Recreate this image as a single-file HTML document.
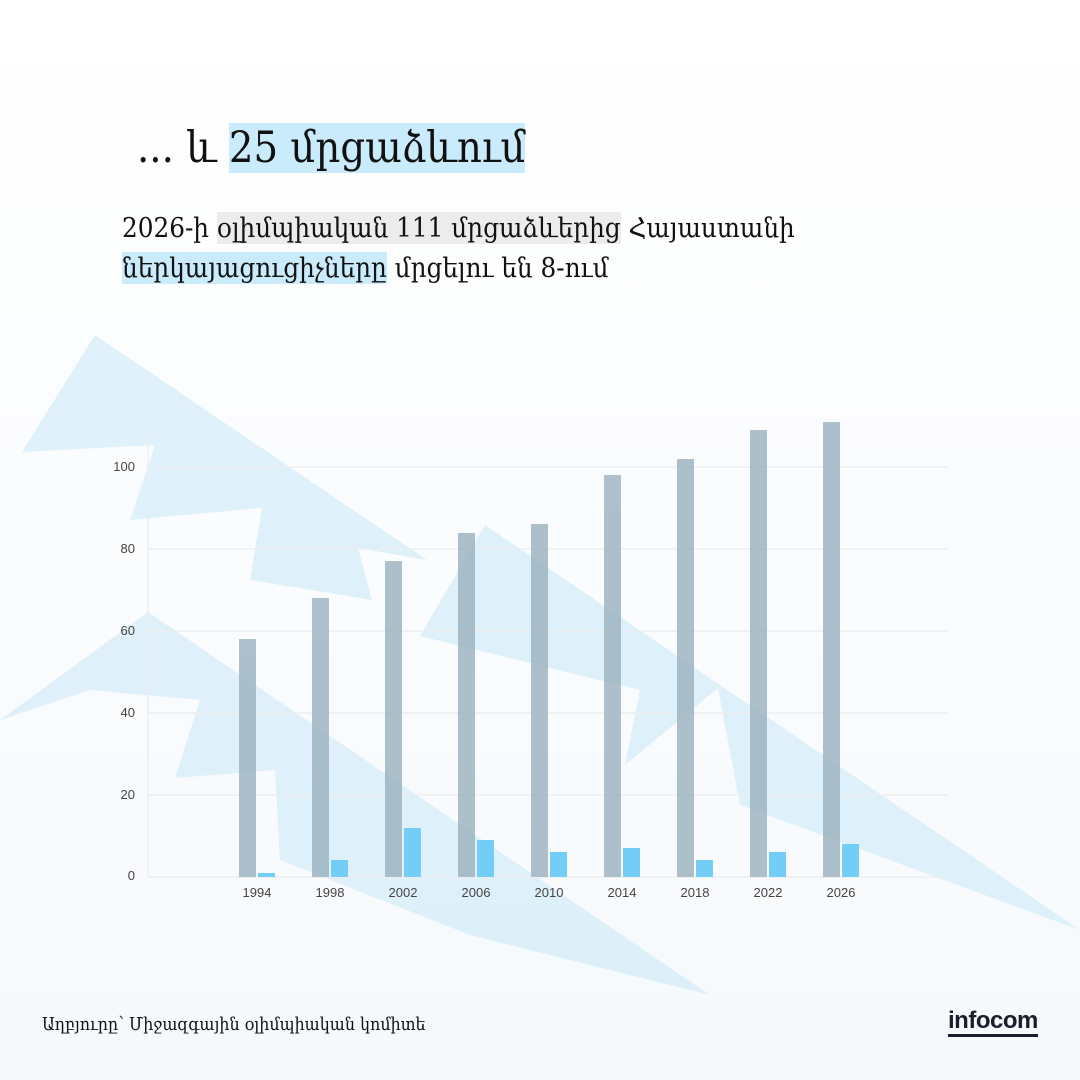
<!DOCTYPE html>
<html><head><meta charset="utf-8"><style>
html,body{margin:0;padding:0}
body{width:1080px;height:1080px;position:relative;overflow:hidden;background:linear-gradient(#ffffff,#f6f9fc);font-family:"DejaVu Serif Condensed","DejaVu Serif","DejaVu Sans",serif;color:#111}
.t{position:absolute;white-space:nowrap}
.hl{background:#c9ebfb}
.hg{background:#ececec}
</style></head><body>
<svg width="1080" height="1080" style="position:absolute;left:0;top:0">
<g fill="#cdeaf8" opacity="0.6">
<polygon points="22,452 95,335 427,560 358,548 372,600 250,580 262,508 130,520 155,445"/>
<polygon points="420,636 485,525 1080,930 740,805 718,688 625,765 640,690"/>
<polygon points="0,720 148,612 710,995 470,935 280,860 275,770 175,778 200,700 90,690"/>
</g>
<g stroke="#eceef0" stroke-width="1.5">
<line x1="148" y1="467" x2="948" y2="467"/>
<line x1="148" y1="549" x2="948" y2="549"/>
<line x1="148" y1="631" x2="948" y2="631"/>
<line x1="148" y1="713" x2="948" y2="713"/>
<line x1="148" y1="795" x2="948" y2="795"/>
<line x1="148" y1="877" x2="948" y2="877"/>
<line x1="148" y1="430" x2="148" y2="877"/>
</g>
<g font-family="Liberation Sans, sans-serif" font-size="13" fill="#444" text-anchor="end">
<text x="135" y="471">100</text><text x="135" y="553">80</text><text x="135" y="635">60</text>
<text x="135" y="717">40</text><text x="135" y="799">20</text><text x="135" y="880">0</text>
</g>
<g font-family="Liberation Sans, sans-serif" font-size="13" fill="#444" text-anchor="middle">
<text x="257" y="897">1994</text><text x="330" y="897">1998</text><text x="403" y="897">2002</text>
<text x="476" y="897">2006</text><text x="549" y="897">2010</text><text x="622" y="897">2014</text>
<text x="695" y="897">2018</text><text x="768" y="897">2022</text><text x="841" y="897">2026</text>
</g>
<g fill="#9fb5c2" opacity="0.85">
<rect x="239" y="639" width="17" height="238"/>
<rect x="312" y="598" width="17" height="279"/>
<rect x="385" y="561" width="17" height="316"/>
<rect x="458" y="533" width="17" height="344"/>
<rect x="531" y="524" width="17" height="353"/>
<rect x="604" y="475" width="17" height="402"/>
<rect x="677" y="459" width="17" height="418"/>
<rect x="750" y="430" width="17" height="447"/>
<rect x="823" y="422" width="17" height="455"/>
</g>
<g fill="#74cdf6">
<rect x="258" y="873" width="17" height="4"/>
<rect x="331" y="860" width="17" height="17"/>
<rect x="404" y="828" width="17" height="49"/>
<rect x="477" y="840" width="17" height="37"/>
<rect x="550" y="852" width="17" height="25"/>
<rect x="623" y="848" width="17" height="29"/>
<rect x="696" y="860" width="17" height="17"/>
<rect x="769" y="852" width="17" height="25"/>
<rect x="842" y="844" width="17" height="33"/>
</g>
</svg>
<div class="t" style="left:137px;top:122px;font-size:43px;line-height:52px">... և <span class="hl">25 մրցաձևում</span></div>
<div class="t" style="left:122px;top:208px;font-size:27.5px;line-height:40px">2026-ի <span class="hg">օլիմպիական 111 մրցաձևերից</span> Հայաստանի<br><span class="hl">ներկայացուցիչները</span> մրցելու են 8-ում</div>
<div class="t" style="left:42px;top:1015px;font-size:17.7px">Աղբյուրը՝ Միջազգային օլիմպիական կոմիտե</div>
<div class="t" style="left:948px;top:1008px;font-family:'Liberation Sans',sans-serif;font-weight:bold;font-size:24px;color:#1a1f2b;border-bottom:3px solid #1a1f2b;line-height:26px;letter-spacing:-0.5px">infocom</div>
</body></html>
